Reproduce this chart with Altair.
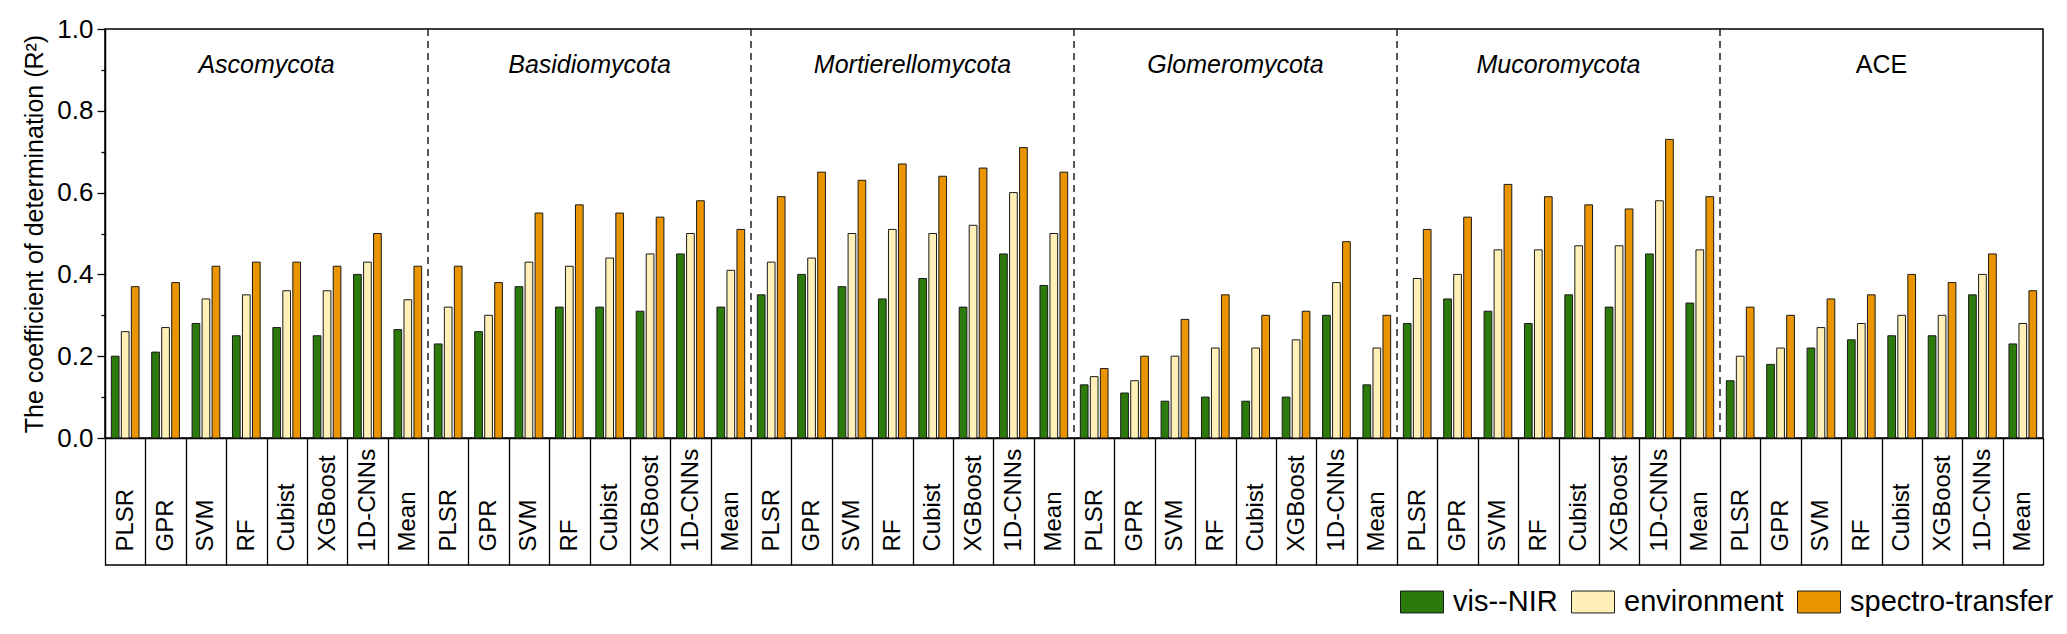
import altair as alt
import pandas as pd

# ---------------- data ----------------
groups = ["Ascomycota", "Basidiomycota", "Mortierellomycota",
          "Glomeromycota", "Mucoromycota", "ACE"]
italic_groups = ["Ascomycota", "Basidiomycota", "Mortierellomycota",
                 "Glomeromycota", "Mucoromycota"]
models = ["PLSR", "GPR", "SVM", "RF", "Cubist", "XGBoost", "1D-CNNs", "Mean"]
series = ["vis--NIR", "environment", "spectro-transfer"]
colors = ["#2B7A0B", "#FFF0B8", "#EA9500"]

vis_nir = [
    0.20, 0.21, 0.28, 0.25, 0.27, 0.25, 0.40, 0.265,   # Ascomycota
    0.23, 0.26, 0.37, 0.32, 0.32, 0.31, 0.45, 0.32,    # Basidiomycota
    0.35, 0.40, 0.37, 0.34, 0.39, 0.32, 0.45, 0.373,   # Mortierellomycota
    0.13, 0.11, 0.09, 0.10, 0.09, 0.10, 0.30, 0.13,    # Glomeromycota
    0.28, 0.34, 0.31, 0.28, 0.35, 0.32, 0.45, 0.33,    # Mucoromycota
    0.14, 0.18, 0.22, 0.24, 0.25, 0.25, 0.35, 0.23,    # ACE
]
environment = [
    0.26, 0.27, 0.34, 0.35, 0.36, 0.36, 0.43, 0.338,
    0.32, 0.30, 0.43, 0.42, 0.44, 0.45, 0.50, 0.41,
    0.43, 0.44, 0.50, 0.51, 0.50, 0.52, 0.60, 0.50,
    0.15, 0.14, 0.20, 0.22, 0.22, 0.24, 0.38, 0.22,
    0.39, 0.40, 0.46, 0.46, 0.47, 0.47, 0.58, 0.46,
    0.20, 0.22, 0.27, 0.28, 0.30, 0.30, 0.40, 0.28,
]
spectro_transfer = [
    0.37, 0.38, 0.42, 0.43, 0.43, 0.42, 0.50, 0.42,
    0.42, 0.38, 0.55, 0.57, 0.55, 0.54, 0.58, 0.51,
    0.59, 0.65, 0.63, 0.67, 0.64, 0.66, 0.71, 0.65,
    0.17, 0.20, 0.29, 0.35, 0.30, 0.31, 0.48, 0.30,
    0.51, 0.54, 0.62, 0.59, 0.57, 0.56, 0.73, 0.59,
    0.32, 0.30, 0.34, 0.35, 0.40, 0.38, 0.45, 0.36,
]
y_ticks = [0.0, 0.1, 0.2, 0.3, 0.4, 0.5, 0.6, 0.7, 0.8, 0.9, 1.0]
y_title = "The coefficient of determination (R\u00b2)"

# ---------------- tables ----------------
rows = []
for gi, g in enumerate(groups):
    for mi, m in enumerate(models):
        k = f"{g}|{m}"
        for s, vals in zip(series, [vis_nir, environment, spectro_transfer]):
            rows.append({"group": g, "model": m, "key": k, "series": s,
                         "value": vals[gi * len(models) + mi]})
df = pd.DataFrame(rows)
keys = [f"{g}|{m}" for g in groups for m in models]

titles_df = pd.DataFrame({
    "group": groups,
    "key": [f"{g}|{models[len(models) // 2]}" for g in groups],
})
bounds_df = pd.DataFrame({"key": [f"{g}|{models[0]}" for g in groups[1:]]})

# ---------------- layout ----------------
W, H = 1938, 409
BOX = 127
FONT = "Liberation Sans"

xscale = alt.Scale(domain=keys, paddingInner=0, paddingOuter=0)
yscale = alt.Scale(domain=[0, 1], nice=False)

bars = alt.Chart(df).mark_bar(stroke="#1a1a1a", strokeWidth=1).encode(
    x=alt.X("key:N", scale=xscale, sort=keys, title=None,
            axis=alt.Axis(
                labelExpr="split(datum.label, '|')[1]",
                labelAngle=270, labelAlign="left", labelBaseline="middle",
                labelPadding=-14, labelFontSize=24, labelFont=FONT,
                labelColor="black", labelOverlap=False, labelLimit=0,
                tickBand="extent", tickSize=BOX, tickColor="black",
                tickWidth=1.3, domainColor="black", domainWidth=1.5,
                grid=False)),
    xOffset=alt.XOffset("series:N", sort=series,
                        scale=alt.Scale(domain=series, paddingInner=0.23,
                                        paddingOuter=0.634)),
    y=alt.Y("value:Q", scale=yscale, title=y_title,
            axis=alt.Axis(
                values=y_ticks,
                labelExpr="round(datum.value*10) % 2 == 0 ? format(datum.value, '.1f') : ''",
                tickSize={"condition": {"test": "round(datum.value*10) % 2 == 1",
                                        "value": 4}, "value": 8},
                tickColor="black", tickWidth=1.3,
                domainColor="black", domainWidth=1.5,
                labelFontSize=26, labelFont=FONT, labelColor="black",
                labelPadding=4, titleFontSize=25, titleFont=FONT,
                titleFontWeight="normal", titleColor="black",
                titlePadding=9, grid=False)),
    color=alt.Color("series:N", sort=series,
                    scale=alt.Scale(domain=series, range=colors),
                    legend=alt.Legend(
                        title=None, orient="none", direction="horizontal",
                        legendX=1295, legendY=551,
                        symbolType="M-1,-0.51L1,-0.51L1,0.51L-1,0.51Z",
                        symbolSize=1849, symbolStrokeColor="#1a1a1a",
                        symbolStrokeWidth=1, symbolOpacity=1,
                        labelFontSize=29, labelFont=FONT, labelColor="black",
                        labelLimit=0, labelOffset=9, columnPadding=11)),
)

rules = alt.Chart(bounds_df).mark_rule(
    strokeDash=[7, 5], color="#222222", strokeWidth=1.5
).encode(x=alt.X("key:N", bandPosition=0, scale=xscale, sort=keys, title=None))

italic_titles = alt.Chart(titles_df).transform_filter(
    alt.FieldOneOfPredicate(field="group", oneOf=italic_groups)
).mark_text(fontSize=25, fontStyle="italic", font=FONT, baseline="middle",
            color="black").encode(
    x=alt.X("key:N", bandPosition=0, scale=xscale, sort=keys, title=None),
    y=alt.datum(0.912, scale=yscale),
    text="group:N",
)

plain_titles = alt.Chart(titles_df).transform_filter(
    ~alt.FieldOneOfPredicate(field="group", oneOf=italic_groups)
).mark_text(fontSize=25, font=FONT, baseline="middle", color="black").encode(
    x=alt.X("key:N", bandPosition=0, scale=xscale, sort=keys, title=None),
    y=alt.datum(0.912, scale=yscale),
    text="group:N",
)

bottom_line = alt.Chart(pd.DataFrame({"a": [0]})).mark_rule(
    color="black", strokeWidth=1.5
).encode(x=alt.value(0), x2=alt.value(W), y=alt.value(H + BOX))

chart = alt.layer(bars, rules, italic_titles, plain_titles, bottom_line).properties(
    width=W, height=H,
    autosize=alt.AutoSizeParams(type="none"),
    padding={"left": 97, "top": 21, "right": 16, "bottom": 190},
).configure(font=FONT).configure_view(stroke="black", strokeWidth=1.5)

chart.save("out.html", embed_options={"renderer": "svg", "actions": False})
